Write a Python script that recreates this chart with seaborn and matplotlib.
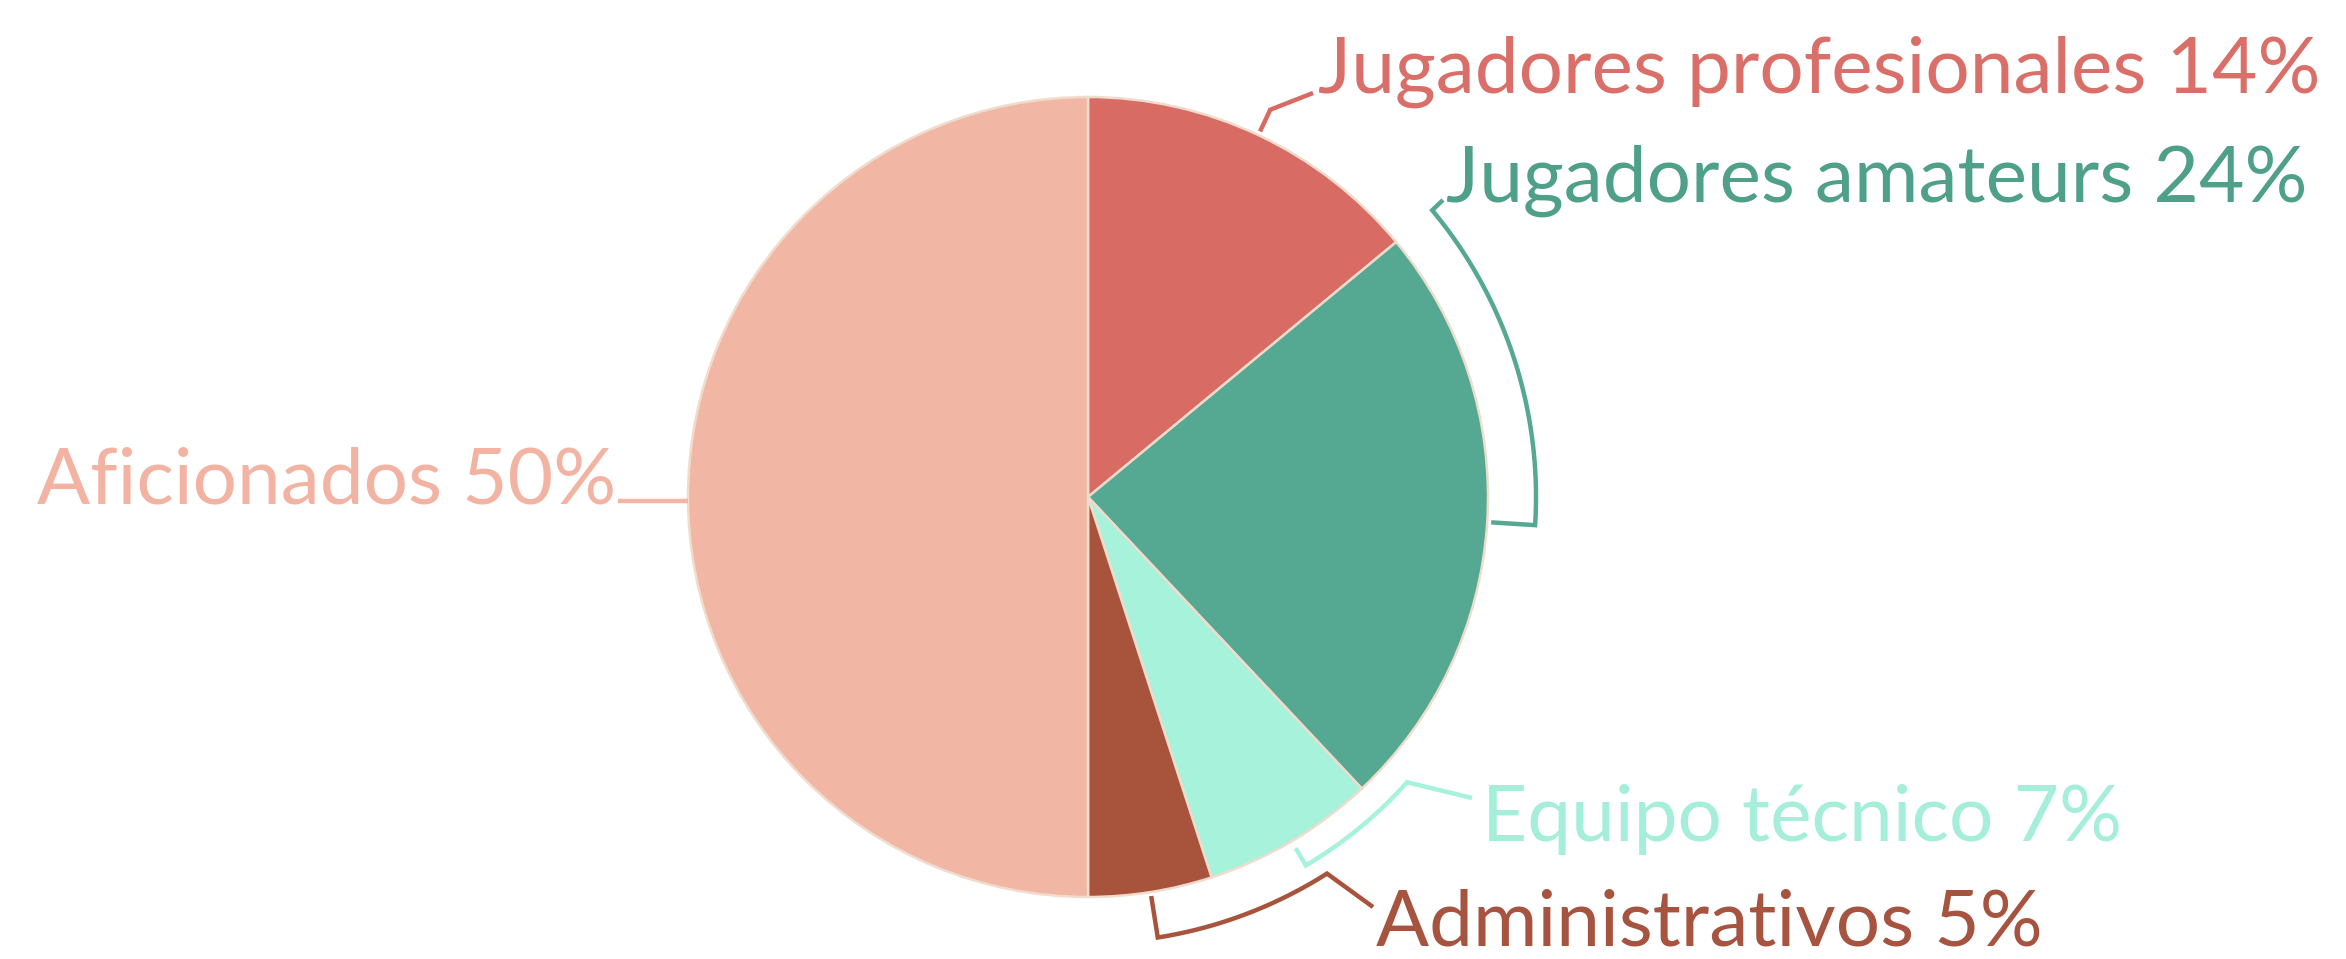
import numpy as np
import matplotlib
matplotlib.use("Agg")
import matplotlib.pyplot as plt
import seaborn as sns

# Composition of the people involved in the sport
categories = ["Jugadores profesionales", "Jugadores amateurs", "Equipo técnico",
              "Administrativos", "Aficionados"]
shares = [14, 24, 7, 5, 50]
slice_colors = ["#D86B63", "#55A891", "#A6F2DB", "#A8533B", "#F2B6A4"]
text_colors = ["#D96F68", "#4FA088", "#A4EEDA", "#A65340", "#F2B3A3"]

sns.set_theme(style="white")
plt.rcParams["font.family"] = ["Lato", "DejaVu Sans"]

fig = plt.figure(figsize=(23.46, 9.59), dpi=100)
ax = fig.add_axes([0, 0, 1, 1])
wedges, _ = ax.pie(shares, colors=slice_colors, startangle=90, counterclock=False,
                   radius=1.0, center=(0, 0),
                   wedgeprops=dict(edgecolor="#EFDCCD", linewidth=1.8))
ax.set_xlim(-2.72, 3.145)
ax.set_ylim(-1.155, 1.2425)
ax.set_aspect("auto")
ax.axis("off")

# slice mid-angles (degrees), clockwise from the top
bounds = 90 - np.concatenate([[0], np.cumsum(shares)]) * 3.6
mids = (bounds[:-1] + bounds[1:]) / 2


def polar(r, deg):
    a = np.deg2rad(deg)
    return r * np.cos(a), r * np.sin(a)


# leader layout: tick radii, bracket arc end angle, end point, label anchor
layout = [
    dict(r0=1.01, r1=1.07, arc_to=None, end=(0.5625, 1.01), text=(0.575, 1.01), ha="left"),
    dict(r0=1.01, r1=1.12, arc_to=39.8, end=(0.8875, 0.7425), text=(0.895, 0.7375), ha="left"),
    dict(r0=1.02, r1=1.07, arc_to=-41.8, end=(0.96, -0.7525), text=(0.985, -0.86), ha="left"),
    dict(r0=1.01, r1=1.115, arc_to=-57.6, end=(0.7125, -1.025), text=(0.72, -1.12), ha="left"),
    dict(r0=1.0, r1=1.0, arc_to=None, end=(-1.175, -0.01), text=(-1.18, -0.0175), ha="right"),
]

fs = 56.5
for i, (name, val) in enumerate(zip(categories, shares)):
    L = layout[i]
    m = mids[i]
    if i == 4:
        xs = [-1.0, L["end"][0]]
        ys = [-0.01, L["end"][1]]
    else:
        x0, y0 = polar(L["r0"], m)
        xs, ys = [x0], [y0]
        if L["arc_to"] is not None:
            angs = np.linspace(m, L["arc_to"], 60)
            ax_, ay_ = polar(L["r1"], angs)
            xs += list(ax_)
            ys += list(ay_)
        else:
            x1, y1 = polar(L["r1"], m)
            xs.append(x1)
            ys.append(y1)
        xs.append(L["end"][0])
        ys.append(L["end"][1])
    ax.plot(xs, ys, color=slice_colors[i], lw=3.2, solid_capstyle="butt",
            solid_joinstyle="miter")
    ax.text(L["text"][0], L["text"][1], f"{name} {val}%", color=text_colors[i],
            fontsize=fs, ha=L["ha"], va="baseline")

fig.savefig("out.png", dpi=100, facecolor="white")
